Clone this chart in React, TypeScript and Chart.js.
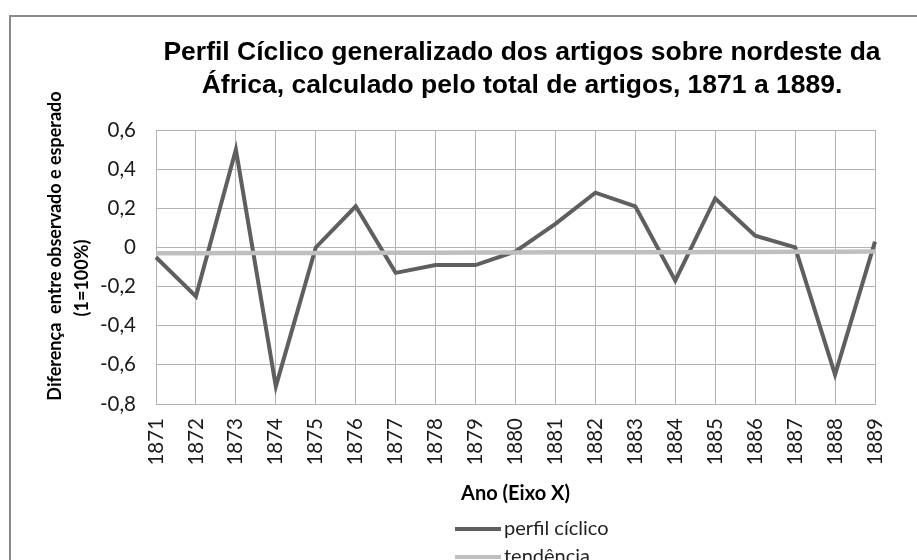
import React, { useEffect, useRef } from "react";
import { Chart, registerables } from "chart.js";

Chart.register(...registerables);

const years = [
  "1871", "1872", "1873", "1874", "1875", "1876", "1877", "1878", "1879", "1880",
  "1881", "1882", "1883", "1884", "1885", "1886", "1887", "1888", "1889",
];

const perfilCiclico = [
  -0.05, -0.25, 0.5, -0.71, 0.0, 0.21, -0.13, -0.09, -0.09, -0.02,
  0.12, 0.28, 0.21, -0.17, 0.25, 0.06, 0.0, -0.65, 0.03,
];

const tendencia = [
  -0.03, -0.03, -0.029, -0.029, -0.028, -0.028, -0.027, -0.027, -0.026, -0.026,
  -0.025, -0.025, -0.024, -0.024, -0.023, -0.023, -0.022, -0.022, -0.021,
];

const seriesLabels = ["perfil cíclico", "tendência"];
const seriesColors = ["#5f5f5f", "#bfbfbf"];

const titleLines = [
  "Perfil Cíclico generalizado dos artigos sobre nordeste da",
  "África, calculado pelo total de artigos, 1871 a 1889.",
];
const yTitleLines = ["Diferença  entre observado e esperado", "(1=100%)"];
const xTitle = "Ano (Eixo X)";

const yMin = -0.8;
const yMax = 0.6;
const yStep = 0.2;

const textPlugin = {
  id: "customText",
  afterDraw(chart: any) {
    const ctx = chart.ctx as CanvasRenderingContext2D;
    ctx.save();
    // main title
    ctx.fillStyle = "#000";
    ctx.font = "bold 26.5px 'Liberation Sans', Arial, sans-serif";
    ctx.textAlign = "center";
    ctx.textBaseline = "alphabetic";
    ctx.fillText(titleLines[0], 522, 60);
    ctx.fillText(titleLines[1], 522, 93);

    // y axis title
    ctx.font = "bold 18px Lato, sans-serif";
    ctx.textBaseline = "middle";
    ctx.save();
    ctx.translate(55, 246);
    ctx.rotate(-Math.PI / 2);
    ctx.fillText(yTitleLines[0], 0, 0);
    ctx.restore();
    ctx.save();
    ctx.translate(82, 278);
    ctx.rotate(-Math.PI / 2);
    ctx.fillText(yTitleLines[1], 0, 0);
    ctx.restore();

    // legend
    const ds = chart.data.datasets;
    const rows = [529, 557];
    ctx.font = "20px Lato, sans-serif";
    ctx.textAlign = "left";
    ds.forEach((d: any, i: number) => {
      const y = rows[i];
      ctx.strokeStyle = d.borderColor;
      ctx.lineWidth = 4;
      ctx.beginPath();
      ctx.moveTo(455, y);
      ctx.lineTo(501, y);
      ctx.stroke();
      ctx.fillStyle = "#222";
      ctx.fillText(d.label, 504, y);
    });
    ctx.restore();
  },
};

export default function App() {
  const ref = useRef<HTMLCanvasElement | null>(null);

  useEffect(() => {
    if (!ref.current) return;
    const chart = new Chart(ref.current, {
      type: "line",
      data: {
        labels: years,
        datasets: [
          {
            label: seriesLabels[0],
            data: perfilCiclico,
            borderColor: seriesColors[0],
            backgroundColor: seriesColors[0],
            borderWidth: 4,
            pointRadius: 0,
            tension: 0,
            order: 2,
          },
          {
            label: seriesLabels[1],
            data: tendencia,
            borderColor: seriesColors[1],
            backgroundColor: seriesColors[1],
            borderWidth: 4.5,
            pointRadius: 0,
            tension: 0,
            order: 1,
          },
        ],
      },
      options: {
        animation: false,
        responsive: false,
        devicePixelRatio: 1,
        layout: { padding: { top: 130, left: 40, right: 42, bottom: 54 } },
        plugins: {
          legend: { display: false },
          title: { display: false },
          tooltip: { enabled: false },
        },
        scales: {
          x: {
            type: "category",
            offset: false,
            grid: { color: "#b3b3b3", lineWidth: 1, drawTicks: false },
            border: { color: "#b3b3b3", width: 1 },
            ticks: {
              autoSkip: false,
              minRotation: 90,
              maxRotation: 90,
              padding: 14,
              color: "#1a1a1a",
              font: { family: "Lato, sans-serif", size: 20.5 },
            },
            title: {
              display: true,
              text: xTitle,
              color: "#000",
              font: { family: "Lato, sans-serif", size: 20, weight: "bold" },
              padding: { top: 0, bottom: 0 },
            },
            afterFit: (s: any) => {
              s.height = 102;
            },
          },
          y: {
            min: yMin,
            max: yMax,
            grid: { color: "#b3b3b3", lineWidth: 1, drawTicks: false },
            border: { color: "#b3b3b3", width: 1 },
            ticks: {
              stepSize: yStep,
              padding: 20,
              color: "#1a1a1a",
              font: { family: "Lato, sans-serif", size: 20.5 },
              callback: (v: any) => {
                const n = Number(v);
                if (Math.abs(n) < 1e-9) return "0";
                return n.toFixed(1).replace(".", ",");
              },
            },
            afterFit: (s: any) => {
              s.width = 116;
            },
          },
        },
      },
      plugins: [textPlugin],
    });
    return () => chart.destroy();
  }, []);

  return (
    <div
      style={{
        position: "absolute",
        left: 0,
        top: 0,
        width: 917,
        height: 560,
        overflow: "hidden",
        background: "#fff",
      }}
    >
      <div
        style={{
          position: "absolute",
          left: 9,
          top: 15,
          width: 2000,
          height: 2000,
          border: "2px solid #8a8a8a",
          boxSizing: "border-box",
        }}
      />
      <canvas
        ref={ref}
        width={917}
        height={560}
        style={{ position: "absolute", left: 0, top: 0, width: 917, height: 560 }}
      />
    </div>
  );
}
